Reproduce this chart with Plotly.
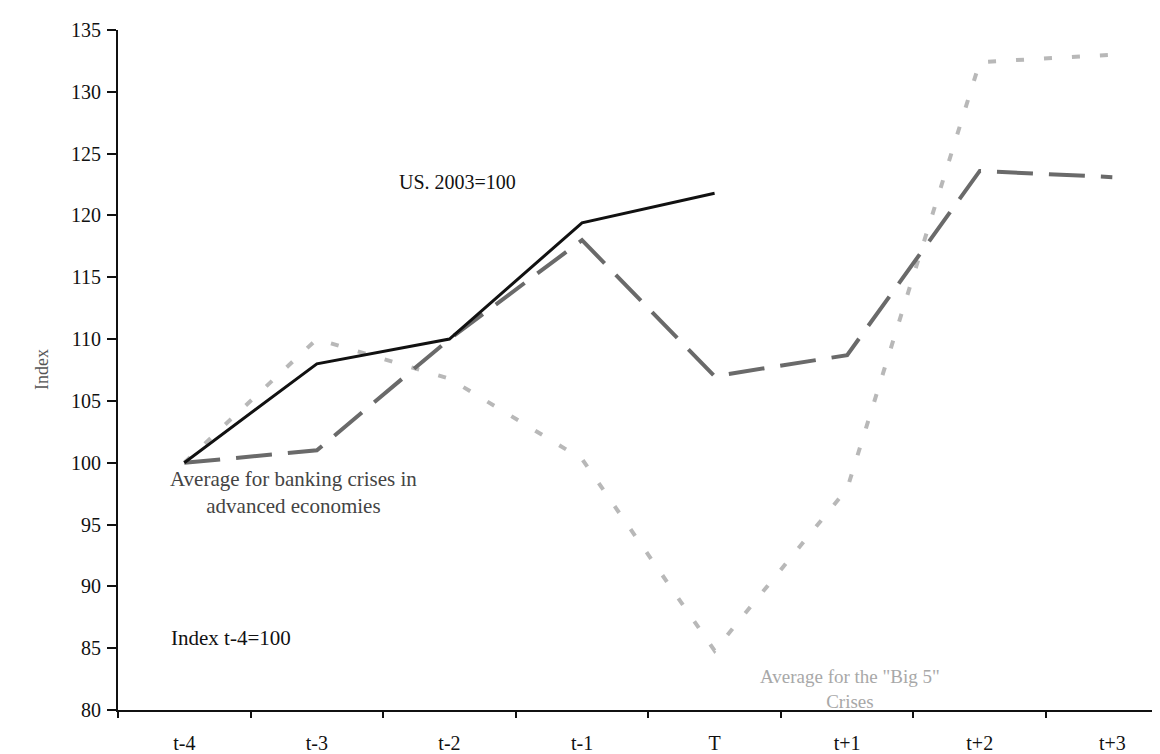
import plotly.graph_objects as go

categories = ["t-4", "t-3", "t-2", "t-1", "T", "t+1", "t+2", "t+3"]
us_values = [100, 108, 110, 119.4, 121.8]
banking_values = [100, 101, 110, 118, 107, 108.7, 123.6, 123.1]
big5_values = [100, 110, 106.8, 100.3, 84.8, 97.9, 132.4, 133.0]
y_ticks = [80, 85, 90, 95, 100, 105, 110, 115, 120, 125, 130, 135]

FONT = "Liberation Serif, Times New Roman, serif"

fig = go.Figure()
fig.add_trace(go.Scatter(
    x=categories, y=big5_values, mode="lines",
    line=dict(color="#b8b8b8", width=4, dash="8px,20px"),
    showlegend=False, name='Average for the "Big 5" Crises'))
fig.add_trace(go.Scatter(
    x=categories, y=banking_values, mode="lines",
    line=dict(color="#6a6a6a", width=4, dash="36px,16px"),
    showlegend=False, name="Average for banking crises in advanced economies"))
fig.add_trace(go.Scatter(
    x=categories[:len(us_values)], y=us_values, mode="lines",
    line=dict(color="#111111", width=3),
    showlegend=False, name="US. 2003=100"))

annos = [
    dict(x=2.06, y=122.7, text="US. 2003=100", color="#111111", size=20),
    dict(x=0.82, y=97.6, text="Average for banking crises in<br>advanced economies", color="#444444", size=21),
    dict(x=0.35, y=85.8, text="Index t-4=100", color="#111111", size=21),
    dict(x=5.02, y=81.7, text='Average for the "Big 5"<br>Crises', color="#a8a8a8", size=19),
]
for a in annos:
    fig.add_annotation(x=a["x"], y=a["y"], xref="x", yref="y", text=a["text"],
                       showarrow=False, align="center",
                       font=dict(family=FONT, size=a["size"], color=a["color"]))

fig.add_annotation(x=0, y=0.5, xref="paper", yref="paper", text="Index",
                   textangle=-90, showarrow=False, xshift=-88,
                   font=dict(family=FONT, size=18, color="#555555"))

fig.update_layout(
    width=1160, height=754,
    margin=dict(l=110, r=0, t=22, b=52, autoexpand=False),
    plot_bgcolor="white", paper_bgcolor="white",
    font=dict(family=FONT, size=20, color="#111111"),
    xaxis=dict(
        type="category", categoryorder="array", categoryarray=categories,
        range=[-0.5, 7.42], tickson="boundaries", ticks="outside",
        ticklen=6, tickwidth=1.5, tickcolor="#111111",
        showline=True, linecolor="#111111", linewidth=2,
        showgrid=False, zeroline=False, ticklabelstandoff=14,
        automargin=False,
        tickfont=dict(family=FONT, size=20, color="#111111"),
    ),
    yaxis=dict(
        range=[80, 135], tickvals=y_ticks, ticks="outside",
        ticklen=9, tickwidth=1.5, tickcolor="#111111",
        showline=True, linecolor="#111111", linewidth=2,
        showgrid=False, zeroline=False, ticklabelstandoff=2,
        automargin=False,
        tickfont=dict(family=FONT, size=20, color="#111111"),
    ),
)

fig.write_html("out.html")
